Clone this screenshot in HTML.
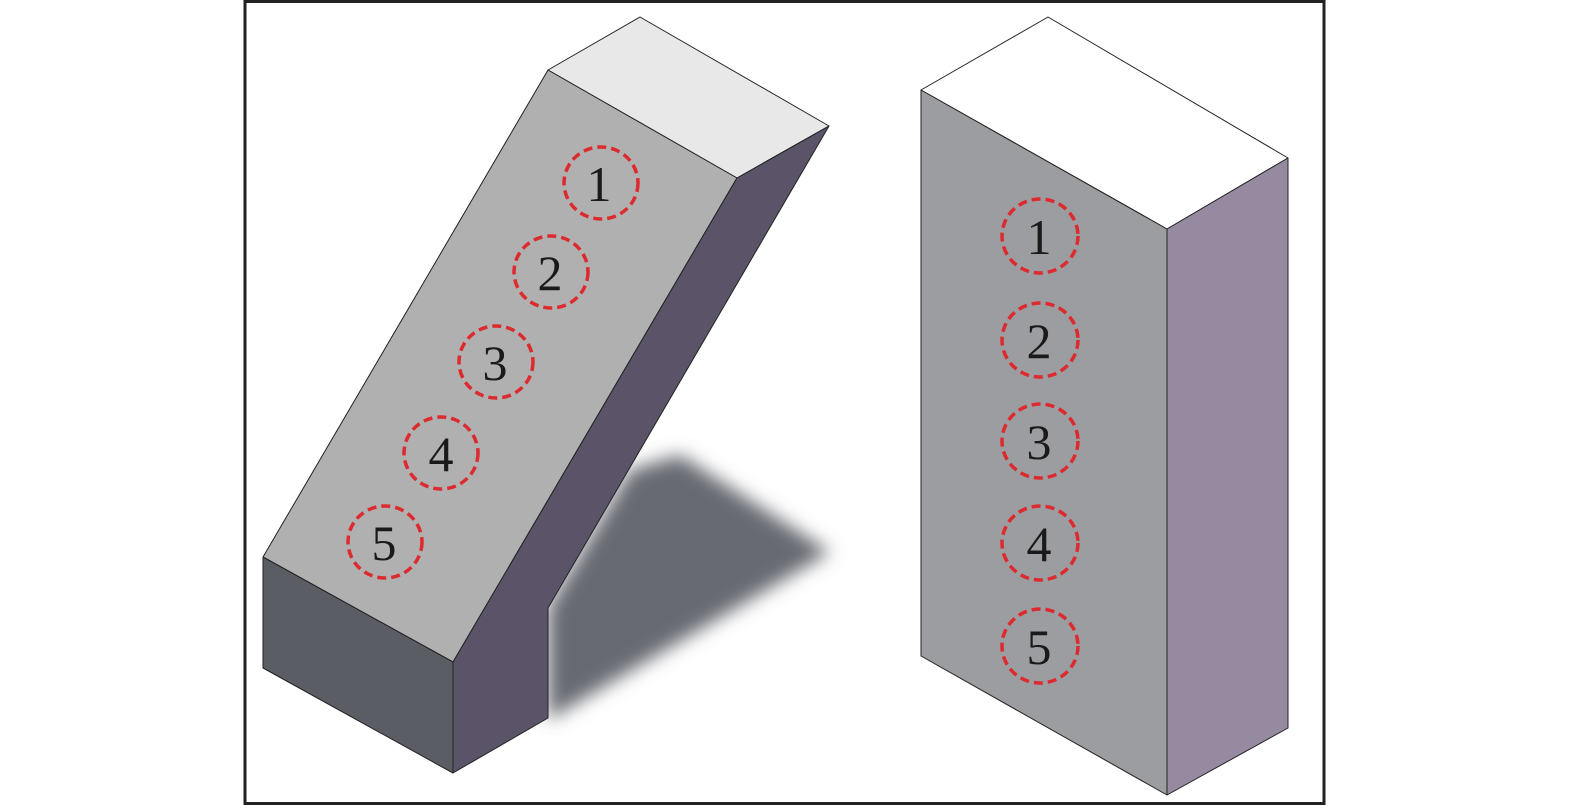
<!DOCTYPE html>
<html><head><meta charset="utf-8"><style>html,body{margin:0;padding:0;background:#fff}svg{display:block}</style></head>
<body>
<svg width="1575" height="809" viewBox="0 0 1575 809" xmlns="http://www.w3.org/2000/svg">
<defs><filter id="b" x="-20%" y="-20%" width="140%" height="140%"><feGaussianBlur stdDeviation="9"/></filter></defs>
<rect x="245" y="1.5" width="1079" height="802" fill="#fff" stroke="#222" stroke-width="3"/>
<polygon points="630,470 680,455 830,552 548,720 548,608" fill="#676a72" filter="url(#b)"/>
<g stroke="#222" stroke-width="1" stroke-linejoin="round">
<polygon points="548,70 640,17 829,126 737,178" fill="#e8e8e8"/>
<polygon points="548,70 737,178 453,662 263,557" fill="#b0b0b0"/>
<polygon points="263,557 453,662 453,773 263,668" fill="#5a5d63"/>
<polygon points="737,178 829,126 548,608 548,718 453,773 453,662" fill="#5b5468"/>
<polygon points="921,90 1048,17 1288,158 1167,229" fill="#fff"/>
<polygon points="921,90 1167,229 1167,795 921,656" fill="#9c9da0"/>
<polygon points="1167,229 1288,158 1288,728 1167,795" fill="#968aa1"/>
</g>
<g fill="none" stroke="#dc2a2e" stroke-width="3.5" stroke-dasharray="9,5">
<ellipse cx="601" cy="183" rx="37" ry="36"/>
<ellipse cx="551" cy="272" rx="37" ry="36"/>
<ellipse cx="496" cy="362" rx="37" ry="36"/>
<ellipse cx="441" cy="453" rx="37" ry="36"/>
<ellipse cx="385" cy="542" rx="37" ry="36"/>
<ellipse cx="1040" cy="236" rx="38" ry="37"/>
<ellipse cx="1040" cy="340" rx="38" ry="37"/>
<ellipse cx="1040" cy="441" rx="38" ry="37"/>
<ellipse cx="1040" cy="543" rx="38" ry="37"/>
<ellipse cx="1040" cy="646" rx="38" ry="37"/>
</g>
<g font-family="Liberation Serif, serif" font-size="50" fill="#1a1a1a" text-anchor="middle">
<text x="599" y="201">1</text>
<text x="550" y="290">2</text>
<text x="495" y="380">3</text>
<text x="441" y="471">4</text>
<text x="384" y="560">5</text>
<text x="1039" y="254">1</text>
<text x="1039" y="358">2</text>
<text x="1039" y="459">3</text>
<text x="1039" y="561">4</text>
<text x="1039" y="664">5</text>
</g>
</svg>
</body></html>
